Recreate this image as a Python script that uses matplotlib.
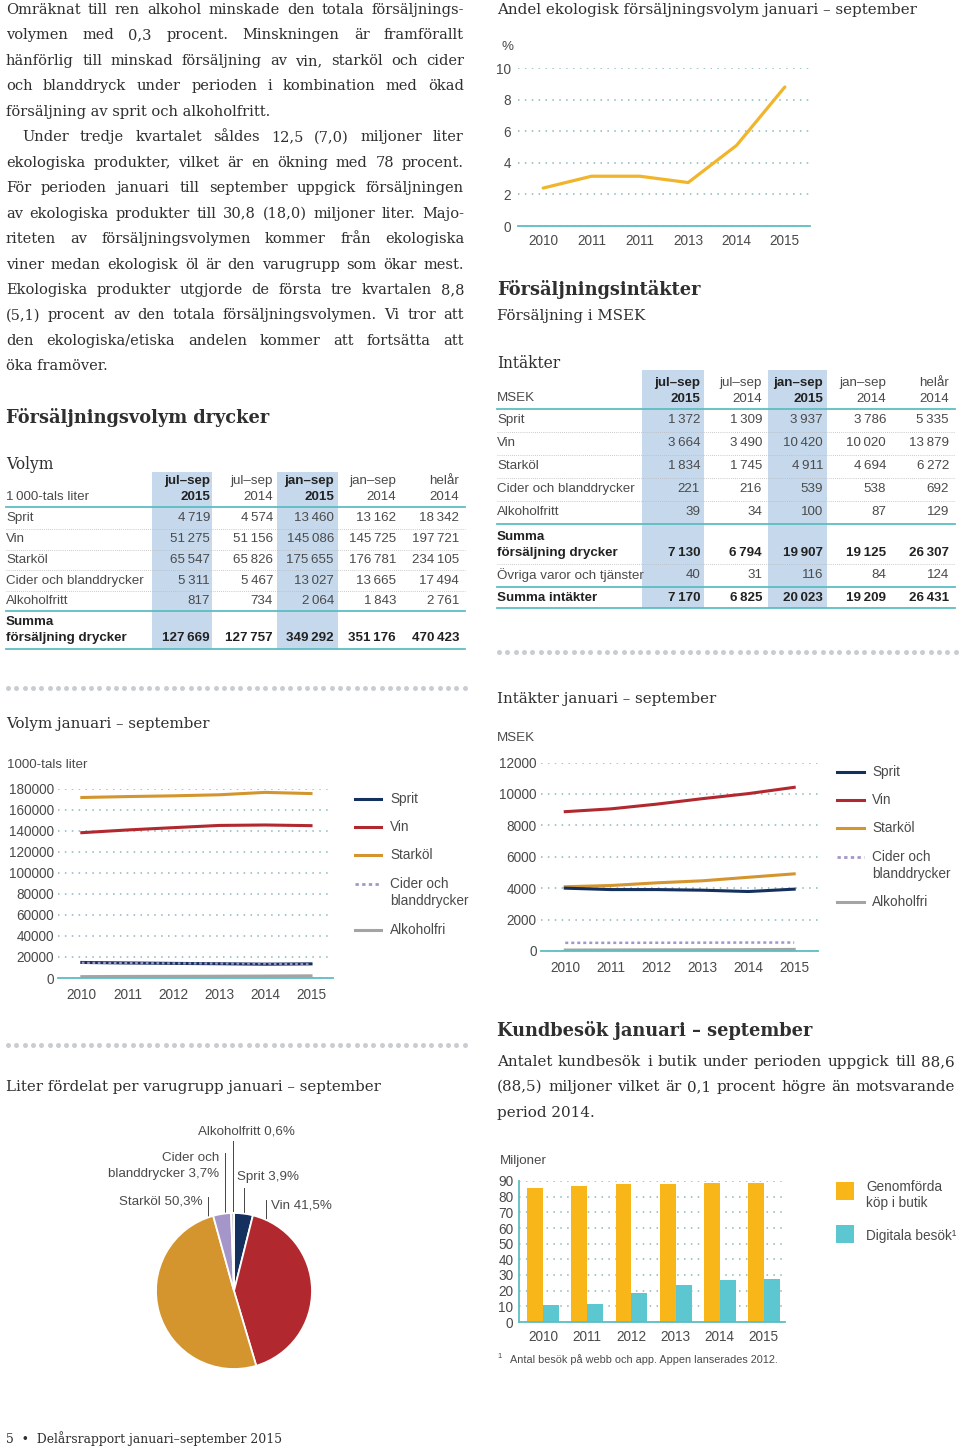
import matplotlib
matplotlib.use("Agg")
import matplotlib.pyplot as plt
import numpy as np

# ---------------- data ----------------
years = ["2010", "2011", "2012", "2013", "2014", "2015"]

# andel ekologisk försäljningsvolym (%), note the repeated 2011 label as in the report
eko_years = ["2010", "2011", "2011", "2013", "2014", "2015"]
eko_share = [2.4, 3.15, 3.15, 2.75, 5.1, 8.8]

table_cols_top = ["jul–sep", "jul–sep", "jan–sep", "jan–sep", "helår"]
table_cols_bot = ["2015", "2014", "2015", "2014", "2014"]

vol_rows = ["Sprit", "Vin", "Starköl", "Cider och blanddrycker", "Alkoholfritt"]
vol_sprit = [4719, 4574, 13460, 13162, 18342]
vol_vin = [51275, 51156, 145086, 145725, 197721]
vol_starkol = [65547, 65826, 175655, 176781, 234105]
vol_cider = [5311, 5467, 13027, 13665, 17494]
vol_alko = [817, 734, 2064, 1843, 2761]
vol_summa = [127669, 127757, 349292, 351176, 470423]

int_rows = ["Sprit", "Vin", "Starköl", "Cider och blanddrycker", "Alkoholfritt"]
int_sprit = [1372, 1309, 3937, 3786, 5335]
int_vin = [3664, 3490, 10420, 10020, 13879]
int_starkol = [1834, 1745, 4911, 4694, 6272]
int_cider = [221, 216, 539, 538, 692]
int_alko = [39, 34, 100, 87, 129]
int_summa_dryck = [7130, 6794, 19907, 19125, 26307]
int_ovriga = [40, 31, 116, 84, 124]
int_summa = [7170, 6825, 20023, 19209, 26431]

# volym januari-september, 1000-tals liter
volym_sprit = [14800, 14300, 13900, 13600, 13162, 13460]
volym_vin = [138400, 141000, 143200, 145300, 145725, 145086]
volym_starkol = [171900, 172800, 173500, 174500, 176781, 175655]
volym_cider = [14500, 14200, 13900, 13800, 13665, 13027]
volym_alko = [1300, 1500, 1600, 1700, 1843, 2064]

# intäkter januari-september, MSEK
intakt_sprit = [4000, 3910, 3910, 3870, 3786, 3937]
intakt_vin = [8870, 9050, 9350, 9700, 10020, 10420]
intakt_starkol = [4090, 4170, 4340, 4470, 4694, 4911]
intakt_cider = [520, 520, 525, 530, 538, 539]
intakt_alko = [60, 65, 70, 80, 87, 100]

# liter fördelat per varugrupp (%)
pie_labels = ["Sprit", "Vin", "Starköl", "Cider och blanddrycker", "Alkoholfritt"]
pie_values = [3.9, 41.5, 50.3, 3.7, 0.6]

# kundbesök, miljoner
kop_i_butik = [85.3, 86.6, 87.9, 88.3, 88.5, 88.6]
digitala_besok = [10.6, 11.7, 18.5, 23.4, 26.5, 27.6]

# ---------------- style ----------------
W, H = 960, 1450
SERIF = ["DejaVu Serif"]
SANS = ["Liberation Sans", "DejaVu Sans"]
TXT = "#2f2f2f"
STXT = "#4a4a4a"
TEAL = "#5dbdc3"
GRID = "#86b8bc"
BAND = "#c6d9ec"
DOTS = "#c9cdd2"
C_SPRIT = "#13305f"
C_VIN = "#b1282f"
C_STARK = "#d4952e"
C_CIDER = "#a496c8"
C_ALKO = "#a4a4a4"
C_EKO = "#f1b52c"
C_BAR1 = "#f8b619"
C_BAR2 = "#5cc6d1"

fig = plt.figure(figsize=(W / 100, H / 100), dpi=100)
ax0 = fig.add_axes([0, 0, 1, 1])
ax0.set_xlim(0, W)
ax0.set_ylim(H, 0)
ax0.axis("off")
renderer = fig.canvas.get_renderer()


def px_axes(left, top, right, bottom):
    return fig.add_axes([left / W, 1 - bottom / H, (right - left) / W, (bottom - top) / H])


def fmt(n):
    return f"{n:,}".replace(",", "\u2009")


def txt(x, y, s, size=10, family=SANS, color=STXT, weight="normal", ha="left"):
    return ax0.text(x, y, s, fontsize=size, family=family, color=color,
                    fontweight=weight, ha=ha, va="center")


def body_line(x0, x1, y, s, justify=True, size=10.5, weight="normal"):
    if not justify:
        txt(x0, y, s, size=size, family=SERIF, color=TXT, weight=weight)
        return
    words = s.split(" ")
    ts = [txt(x0, y, w, size=size, family=SERIF, color=TXT, weight=weight) for w in words]
    ws = [t.get_window_extent(renderer).width for t in ts]
    gap = (x1 - x0 - sum(ws)) / (len(words) - 1)
    x = x0
    for t, w in zip(ts, ws):
        t.set_x(x)
        x += w + gap


def dot_row(x0, x1, y):
    xs = np.arange(x0, x1, 8.3)
    ax0.plot(xs, [y] * len(xs), "o", ms=3.6, color=DOTS, mec="none")


# ---------------- left column text ----------------
para = [
    ("Omräknat till ren alkohol minskade den totala försäljnings-", 6, True),
    ("volymen med 0,3 procent. Minskningen är framförallt", 6, True),
    ("hänförlig till minskad försäljning av vin, starköl och cider", 6, True),
    ("och blanddryck under perioden i kombination med ökad", 6, True),
    ("försäljning av sprit och alkoholfritt.", 6, False),
    ("Under tredje kvartalet såldes 12,5 (7,0) miljoner liter", 22, True),
    ("ekologiska produkter, vilket är en ökning med 78 procent.", 6, True),
    ("För perioden januari till september uppgick försäljningen", 6, True),
    ("av ekologiska produkter till 30,8 (18,0) miljoner liter. Majo-", 6, True),
    ("riteten av försäljningsvolymen kommer från ekologiska", 6, True),
    ("viner medan ekologisk öl är den varugrupp som ökar mest.", 6, True),
    ("Ekologiska produkter utgjorde de första tre kvartalen 8,8", 6, True),
    ("(5,1) procent av den totala försäljningsvolymen. Vi tror att", 6, True),
    ("den ekologiska/etiska andelen kommer att fortsätta att", 6, True),
    ("öka framöver.", 6, False),
]
for i, (s, x0, j) in enumerate(para):
    body_line(x0, 464, 10 + i * 25.45, s, justify=j)

txt(6, 417, "Försäljningsvolym drycker", size=12.8, family=SERIF, color=TXT, weight="bold")


# ---------------- tables ----------------
def draw_table(x0, x1, band_top, head_y, col_right, bands, rows, teal_lines, dotted_lines):
    for bx0, bx1 in bands:
        ax0.add_patch(plt.Rectangle((bx0, band_top), bx1 - bx0, teal_lines[-1] - band_top,
                                    color=BAND, lw=0, zorder=0))
    for k, (top, bot) in enumerate(zip(table_cols_top, table_cols_bot)):
        w = "bold" if k in (0, 2) else "normal"
        c = "#222222" if k in (0, 2) else STXT
        txt(col_right[k], head_y, top, size=9.6, weight=w, color=c, ha="right")
        txt(col_right[k], head_y + 15.5, bot, size=9.6, weight=w, color=c, ha="right")
    for y in teal_lines:
        ax0.plot([x0, x1], [y, y], color=TEAL, lw=1.3)
    for y in dotted_lines:
        ax0.plot([x0, x1], [y, y], color="#b9b9b9", lw=0.6, ls=(0, (1, 1.5)))
    for label, vals, y, bold in rows:
        w = "bold" if bold else "normal"
        c = "#222222" if bold else STXT
        if isinstance(label, tuple):
            txt(x0, y - 16, label[0], size=9.6, weight=w, color=c)
            txt(x0, y, label[1], size=9.6, weight=w, color=c)
        else:
            txt(x0, y, label, size=9.6, weight=w, color=c)
        for k, v in enumerate(vals):
            txt(col_right[k], y, fmt(v), size=9.6, weight=w, color=c, ha="right")


# volym table
txt(6, 464, "Volym", size=11.2, family=SERIF, color=TXT)
txt(6, 497, "1\u2009000-tals liter", size=9.6)
vol_y = [518, 539, 559.5, 580.5, 601]
vol_data = [vol_sprit, vol_vin, vol_starkol, vol_cider, vol_alko]
rows = [(lab, vals, y, False) for lab, vals, y in zip(vol_rows, vol_data, vol_y)]
rows.append((("Summa", "försäljning drycker"), vol_summa, 638, True))
draw_table(6, 465, 472, 481, [210, 273, 334, 396, 459], [(152, 212), (277, 338)], rows,
           [507, 611, 649], [528.5, 549.5, 570, 591])

# intäkter table
txt(497, 363, "Intäkter", size=11.2, family=SERIF, color=TXT)
txt(497, 398, "MSEK", size=9.6)
int_y = [420, 443, 466, 489, 512]
int_data = [int_sprit, int_vin, int_starkol, int_cider, int_alko]
rows = [(lab, vals, y, False) for lab, vals, y in zip(int_rows, int_data, int_y)]
rows.append((("Summa", "försäljning drycker"), int_summa_dryck, 552.5, True))
rows.append(("Övriga varor och tjänster", int_ovriga, 575, False))
rows.append(("Summa intäkter", int_summa, 597.5, True))
draw_table(497, 955, 370, 383, [700, 762, 823, 886, 949], [(642, 704), (768, 827)], rows,
           [409, 524, 587, 608], [431.5, 454.5, 477.5, 500.5, 564])

# ---------------- right column headings ----------------
txt(497, 10, "Andel ekologisk försäljningsvolym januari – september", size=10.9, family=SERIF, color=TXT)
txt(497, 289, "Försäljningsintäkter", size=12.8, family=SERIF, color=TXT, weight="bold")
txt(497, 316, "Försäljning i MSEK", size=10.8, family=SERIF, color=TXT)
txt(502, 47, "%", size=9.6)


def style_axes(ax, left_spine=False):
    ax.set_facecolor("none")
    for sp in ["top", "right", "left"]:
        ax.spines[sp].set_visible(False)
    ax.spines["bottom"].set_color(TEAL)
    ax.spines["bottom"].set_linewidth(1.3)
    if left_spine:
        ax.spines["left"].set_visible(True)
        ax.spines["left"].set_color(TEAL)
        ax.spines["left"].set_linewidth(1.3)
    ax.yaxis.grid(True, color=GRID, lw=1.1, ls=(0, (1, 3.5)))
    ax.set_axisbelow(True)
    ax.tick_params(length=0, labelsize=9.8, labelcolor=STXT)
    for lab in ax.get_xticklabels() + ax.get_yticklabels():
        lab.set_family(SANS)


# andel ekologisk
ax = px_axes(518, 68, 810, 226)
ax.plot(range(len(eko_share)), eko_share, color=C_EKO, lw=2.3, solid_capstyle="round")
ax.set_xlim(-0.52, 5.52)
ax.set_ylim(0, 10)
ax.set_yticks(range(0, 11, 2))
ax.set_xticks(range(len(eko_years)))
ax.set_xticklabels(eko_years)
style_axes(ax)
ax.tick_params(axis="y", pad=5)
ax.tick_params(axis="x", pad=6)

dot_row(499, 958, 652)
dot_row(8, 465, 688)
dot_row(8, 465, 1045)

# ---------------- volym januari - september ----------------
txt(6, 724, "Volym januari – september", size=10.8, family=SERIF, color=TXT)
txt(7, 765, "1000-tals liter", size=9.6)
ax = px_axes(58, 789, 333, 978)
ax.plot(range(6), volym_starkol, color=C_STARK, lw=2.2)
ax.plot(range(6), volym_vin, color=C_VIN, lw=2.2)
ax.plot(range(6), volym_alko, color=C_ALKO, lw=2.2)
ax.plot(range(6), volym_sprit, color=C_SPRIT, lw=2.2)
ax.plot(range(6), volym_cider, color=C_CIDER, lw=1.6, ls=(0, (1.2, 1.2)))
ax.set_xlim(-0.52, 5.48)
ax.set_ylim(0, 180000)
ax.set_yticks(range(0, 180001, 20000))
ax.set_xticks(range(6))
ax.set_xticklabels(years)
style_axes(ax)
ax.tick_params(axis="y", pad=3)
ax.tick_params(axis="x", pad=7)

leg_items = [("Sprit", C_SPRIT, "-"), ("Vin", C_VIN, "-"), ("Starköl", C_STARK, "-"),
             ("Cider och\nblanddrycker", C_CIDER, ":"), ("Alkoholfri", C_ALKO, "-")]


def legend_block(x0, x1, xt, ys):
    for (lab, col, ls), y in zip(leg_items, ys):
        if ls == ":":
            ax0.plot([x0, x1], [y, y], color=col, lw=2.0, ls=(0, (1.2, 1.2)))
        else:
            ax0.plot([x0, x1], [y, y], color=col, lw=2.2)
        for k, part in enumerate(lab.split("\n")):
            txt(xt, y + k * 16.5, part, size=9.8)


legend_block(355, 381, 390, [798.5, 826.5, 855, 884, 929.5])

# ---------------- intäkter januari - september ----------------
txt(497, 699, "Intäkter januari – september", size=10.8, family=SERIF, color=TXT)
txt(497, 738, "MSEK", size=9.6)
ax = px_axes(541, 762.5, 818, 951)
ax.plot(range(6), intakt_vin, color=C_VIN, lw=2.2)
ax.plot(range(6), intakt_starkol, color=C_STARK, lw=2.2)
ax.plot(range(6), intakt_sprit, color=C_SPRIT, lw=2.2)
ax.plot(range(6), intakt_alko, color=C_ALKO, lw=2.2)
ax.plot(range(6), intakt_cider, color=C_CIDER, lw=1.8, ls=(0, (1.2, 1.2)))
ax.set_xlim(-0.53, 5.52)
ax.set_ylim(0, 12000)
ax.set_yticks(range(0, 12001, 2000))
ax.set_xticks(range(6))
ax.set_xticklabels(years)
style_axes(ax)
ax.tick_params(axis="y", pad=3)
ax.tick_params(axis="x", pad=7)
legend_block(837, 864, 872, [771.5, 800, 828, 857, 902])

# ---------------- pie ----------------
txt(6, 1087, "Liter fördelat per varugrupp januari – september", size=10.8, family=SERIF, color=TXT)
ax = px_axes(156, 1213, 312, 1369)
ax.pie(pie_values, colors=[C_SPRIT, C_VIN, C_STARK, C_CIDER, "#c9c9c9"], startangle=90,
       counterclock=False, wedgeprops=dict(edgecolor="white", linewidth=1.3))
ax.set_xlim(-1, 1)
ax.set_ylim(-1, 1)

pie_text = [f"{lab} {str(v).replace('.', ',')}%" for lab, v in zip(pie_labels, pie_values)]
# label placement: (text x, text y, ha, leader x, leader top, leader bottom, dot)
pie_ann = [
    (237, 1177, "left", 244, 1188, 1217, False),
    (271, 1206, "left", 266, 1200, 1246, True),
    (203, 1202, "right", 208, 1197, 1246, True),
    (219, 1174, "right", 224.5, 1153, 1219, False),
    (198, 1132, "left", 232.7, 1141, 1218, False),
]
for s, (tx, ty, ha, lx, l0, l1, dot) in zip(pie_text, pie_ann):
    if s.startswith("Cider"):
        txt(tx, ty - 16, "Cider och", size=9.6, ha=ha)
        txt(tx, ty, s.replace("Cider och ", ""), size=9.6, ha=ha)
    else:
        txt(tx, ty, s, size=9.6, ha=ha)
    ax0.plot([lx, lx], [l0, l1], color="#444444", lw=0.7, zorder=5)
    if dot:
        ax0.plot(lx, l1, "o", ms=2, color="#333333", zorder=5)

# ---------------- kundbesök ----------------
txt(497, 1031, "Kundbesök januari – september", size=12.8, family=SERIF, color=TXT, weight="bold")
body_line(497, 955, 1062, "Antalet kundbesök i butik under perioden uppgick till 88,6", size=10.9)
body_line(497, 955, 1087, "(88,5) miljoner vilket är 0,1 procent högre än motsvarande", size=10.9)
body_line(497, 955, 1113, "period 2014.", justify=False, size=10.9)
txt(500, 1161, "Miljoner", size=9.6)

ax = px_axes(519, 1181, 785, 1322)
x = np.arange(len(years))
bw = 0.362
ax.bar(x - bw / 2, kop_i_butik, width=bw, color=C_BAR1, lw=0)
ax.bar(x + bw / 2, digitala_besok, width=bw, color=C_BAR2, lw=0)
ax.set_xlim(-0.55, 5.48)
ax.set_ylim(0, 90)
ax.set_yticks(range(0, 91, 10))
ax.set_xticks(x)
ax.set_xticklabels(years)
style_axes(ax, left_spine=True)
ax.tick_params(axis="y", pad=4)
ax.tick_params(axis="x", pad=6)

ax0.add_patch(plt.Rectangle((836, 1182), 18, 18, color=C_BAR1, lw=0))
ax0.add_patch(plt.Rectangle((836, 1224.5), 18, 18, color=C_BAR2, lw=0))
txt(866, 1187, "Genomförda", size=9.8)
txt(866, 1203, "köp i butik", size=9.8)
txt(866, 1236, "Digitala besök\u00b9", size=9.8)
txt(497, 1357, "1", size=5.5)
txt(510, 1360, "Antal besök på webb och app. Appen lanserades 2012.", size=7.8)

# ---------------- footer ----------------
txt(6, 1439, "5  •  Delårsrapport januari–september 2015", size=8.9, family=SERIF, color=TXT)

fig.savefig("out.png", dpi=100)
